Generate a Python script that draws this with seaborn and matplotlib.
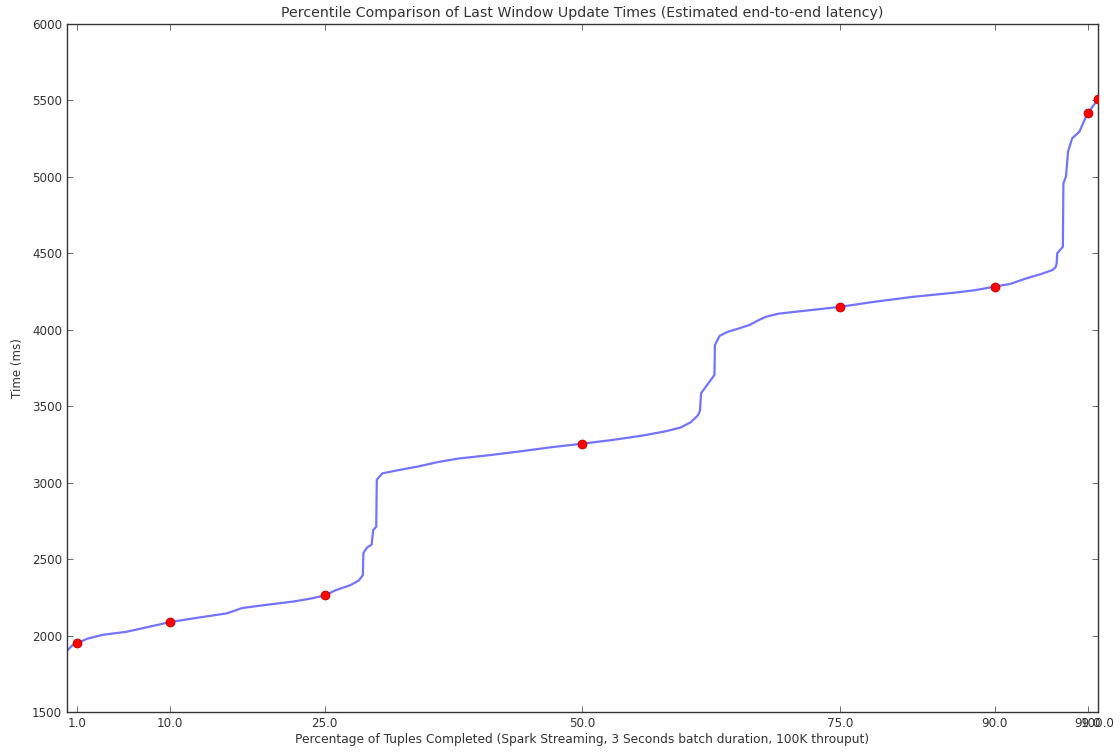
import matplotlib
matplotlib.use("Agg")
import matplotlib.pyplot as plt
import seaborn as sns
import pandas as pd

# Latency percentile curve (percent of tuples completed -> time in ms)
curve_pct = [0, 0.5, 1, 2, 3.5, 5.8, 8, 10, 12.5, 15.5, 17, 19, 21.9, 23.5,
             25, 26, 27.5, 28.3, 28.7, 28.75, 29.1, 29.55, 29.7, 30.0, 30.05,
             30.6, 32, 34, 36, 38, 41, 44, 47, 50, 53, 56, 58, 59.5, 60.5, 61.2,
             61.4, 61.5, 62.2, 62.8, 62.85, 63.3, 64.1, 65, 66.2, 67, 67.8, 69,
             70.7, 73, 75, 78, 82, 86, 88, 90, 91.5, 93, 94.5, 95.6, 95.9, 96.0,
             96.05, 96.6, 96.65, 96.9, 97.1, 97.5, 98.2, 98.7, 99, 100]
curve_ms = [1900, 1935, 1951, 1980, 2005, 2025, 2058, 2088, 2115, 2145, 2180,
            2198, 2222, 2240, 2262, 2295, 2330, 2360, 2395, 2540, 2575, 2595,
            2690, 2712, 3020, 3061, 3080, 3105, 3135, 3158, 3180, 3205, 3232,
            3255, 3280, 3310, 3335, 3360, 3395, 3440, 3470, 3584, 3649, 3704,
            3900, 3960, 3987, 4005, 4031, 4060, 4085, 4105, 4118, 4135, 4150,
            4180, 4215, 4242, 4258, 4282, 4300, 4335, 4365, 4391, 4410, 4435,
            4500, 4543, 4958, 5002, 5165, 5252, 5295, 5372, 5416, 5507]

# Highlighted percentiles
mark_pct = [1, 10, 25, 50, 75, 90, 99, 100]
mark_ms = [1951, 2088, 2262, 3255, 4150, 4282, 5416, 5507]

sns.set_style("ticks")
plt.rcParams["font.family"] = ["DejaVu Sans"]

fig = plt.figure(figsize=(11.2, 7.54), dpi=100)
ax = fig.add_axes([0.0598, 0.0557, 0.9205, 0.9125])

curve = pd.DataFrame({"pct": curve_pct, "ms": curve_ms})
marks = pd.DataFrame({"pct": mark_pct, "ms": mark_ms})

sns.lineplot(data=curve, x="pct", y="ms", ax=ax, sort=False, estimator=None,
             color="#0000ff", alpha=0.55, linewidth=1.6)
ax.plot(marks["pct"], marks["ms"], "o", color="red", markersize=6.5,
        markeredgecolor="#aa0000", markeredgewidth=0.5, zorder=3)

ax.set_xlim(0, 100)
ax.set_ylim(1500, 6000)
ax.set_xticks(mark_pct)
ax.set_xticklabels([f"{p:.1f}" for p in mark_pct])
ax.set_yticks(range(1500, 6001, 500))

for s in ax.spines.values():
    s.set_visible(True)
    s.set_color("#333333")
    s.set_linewidth(1.0)
ax.tick_params(direction="in", top=True, right=True, length=4, width=0.6,
               colors="#555555", labelcolor="#333333", labelsize=8.6)

ax.set_title("Percentile Comparison of Last Window Update Times (Estimated end-to-end latency)",
             fontsize=10.2, color="#333333", pad=5)
ax.set_xlabel("Percentage of Tuples Completed (Spark Streaming, 3 Seconds batch duration, 100K throuput)",
              fontsize=8.8, color="#333333", labelpad=2)
ax.set_ylabel("Time (ms)", fontsize=8.6, color="#333333", labelpad=6)

fig.savefig("out.png", dpi=100, facecolor="white")
